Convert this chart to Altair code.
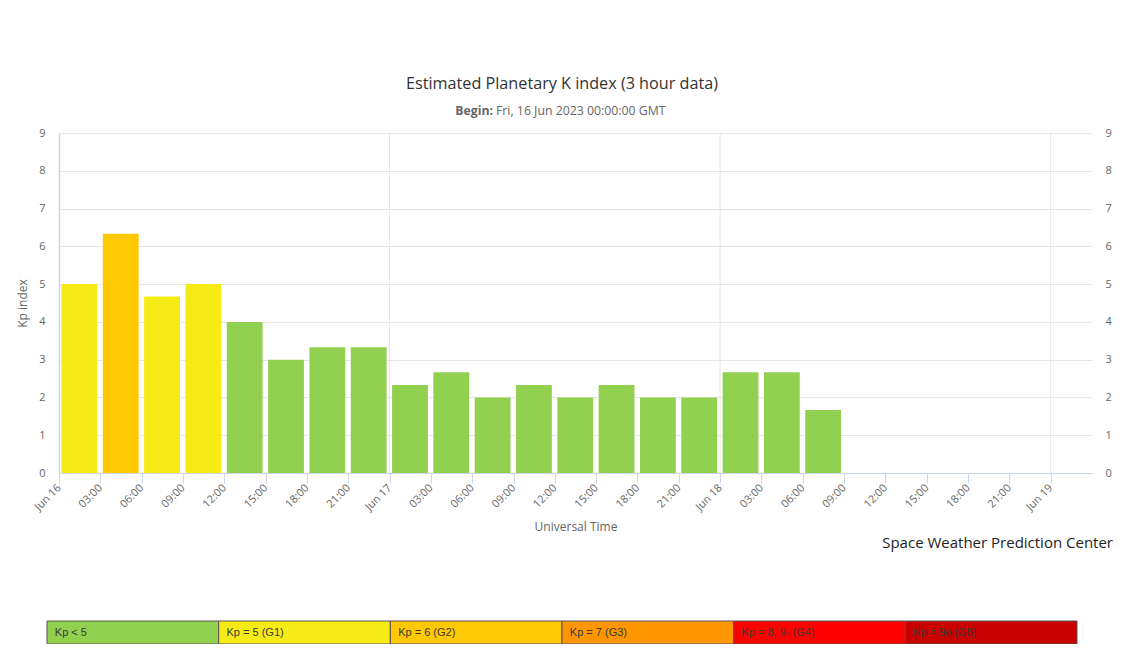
import altair as alt
import pandas as pd

# ---------------- data ----------------
kp_times = [
    "2023-06-16T00:00:00Z", "2023-06-16T03:00:00Z", "2023-06-16T06:00:00Z", "2023-06-16T09:00:00Z",
    "2023-06-16T12:00:00Z", "2023-06-16T15:00:00Z", "2023-06-16T18:00:00Z", "2023-06-16T21:00:00Z",
    "2023-06-17T00:00:00Z", "2023-06-17T03:00:00Z", "2023-06-17T06:00:00Z", "2023-06-17T09:00:00Z",
    "2023-06-17T12:00:00Z", "2023-06-17T15:00:00Z", "2023-06-17T18:00:00Z", "2023-06-17T21:00:00Z",
    "2023-06-18T00:00:00Z", "2023-06-18T03:00:00Z", "2023-06-18T06:00:00Z",
]
kp_values = [5.00, 6.33, 4.67, 5.00, 4.00, 3.00, 3.33, 3.33, 2.33, 2.67,
             2.00, 2.33, 2.00, 2.33, 2.00, 2.00, 2.67, 2.67, 1.67]
day_lines = ["2023-06-17T00:00:00Z", "2023-06-18T00:00:00Z", "2023-06-19T00:00:00Z"]
y_ticks = [0, 1, 2, 3, 4, 5, 6, 7, 8, 9]

scale_labels = ["Kp < 5", "Kp = 5 (G1)", "Kp = 6 (G2)", "Kp = 7 (G3)", "Kp = 8, 9- (G4)", "Kp = 9o (G5)"]
scale_colors = ["#92D050", "#F6EB14", "#FFC800", "#FF9600", "#FF0000", "#C80000"]
kp_thresholds = [4.5, 5.5, 6.5, 7.5, 8.8]

title_text = "Estimated Planetary K index (3 hour data)"
subtitle_label = "Begin:"
subtitle_value = "Fri, 16 Jun 2023 00:00:00 GMT"
credit_text = "Space Weather Prediction Center"
x_title = "Universal Time"
y_title = "Kp index"

# ---------------- tables ----------------
df = pd.DataFrame({"start": kp_times, "kp": kp_values})
df["end"] = (pd.to_datetime(df["start"]) + pd.Timedelta(hours=3)).dt.strftime("%Y-%m-%dT%H:%M:%SZ")
days_df = pd.DataFrame({"day": day_lines})
legend_df = pd.DataFrame({"label": scale_labels})

tick_times = pd.date_range("2023-06-16", "2023-06-19", freq="3h", tz="UTC")
tick_ms = [int(t.value // 10**6) for t in tick_times]

x_domain = [alt.DateTime(year=2023, month=6, date=16, hours=0, utc=True),
            alt.DateTime(year=2023, month=6, date=19, hours=3, utc=True)]
xscale = alt.Scale(type="utc", domain=x_domain)
yscale = alt.Scale(domain=[0, 9], nice=False)

FONT = "Open Sans"
AXIS_BLUE = "#ccd6eb"
GRID = "#e6e6e6"

label_expr = ("utchours(datum.value) == 0 ? utcFormat(datum.value, '%b %-d') "
              ": utcFormat(datum.value, '%H:%M')")

grid_rules = alt.Chart(days_df).mark_rule(color=GRID, strokeWidth=1).encode(
    x=alt.X("day:T", scale=xscale, axis=None)
)

bars = alt.Chart(df).mark_bar(xOffset=2.5, x2Offset=-3).encode(
    x=alt.X("start:T", scale=xscale, axis=alt.Axis(
        values=tick_ms, labelExpr=label_expr, labelAngle=-45, labelAlign="right",
        labelBaseline="middle", labelPadding=3, tickSize=10, tickColor=AXIS_BLUE,
        domainColor=AXIS_BLUE, grid=False, labelOverlap=False, labelFlush=False,
        labelColor="#666666", labelFont=FONT, labelFontSize=11,
        title=x_title, titleColor="#666666", titleFont=FONT, titleFontSize=12,
        titleFontWeight="normal", titlePadding=9)),
    x2="end:T",
    y=alt.Y("kp:Q", scale=yscale, axis=alt.Axis(
        values=y_ticks, grid=True, gridColor=GRID, ticks=False, domainColor=AXIS_BLUE,
        domainWidth=1.5, labelColor="#666666", labelFont=FONT, labelFontSize=11,
        labelPadding=14, title=y_title, titleColor="#666666", titleFont=FONT,
        titleFontSize=12, titleFontWeight="normal", titlePadding=9)),
    y2=alt.datum(0),
    color=alt.Color("kp:Q", scale=alt.Scale(type="threshold", domain=kp_thresholds,
                                            range=scale_colors), legend=None),
)

right_axis = alt.Chart(df).mark_bar(opacity=0).encode(
    x=alt.X("start:T", scale=xscale, axis=None),
    x2="end:T",
    y=alt.Y("kp:Q", scale=yscale, axis=alt.Axis(
        orient="right", values=y_ticks, grid=False, ticks=False, domain=False,
        labelColor="#666666", labelFont=FONT, labelFontSize=11, labelPadding=13,
        title=None)),
    y2=alt.datum(0),
)

legend_scale = alt.Scale(domain=scale_labels, range=[-12, 1018], paddingInner=0, paddingOuter=0)

legend_rects = alt.Chart(legend_df).mark_rect(stroke="#555555", strokeWidth=1).encode(
    x=alt.X("label:N", scale=legend_scale, axis=None),
    y=alt.value(488), y2=alt.value(511),
    color=alt.Color("label:N", scale=alt.Scale(domain=scale_labels, range=scale_colors), legend=None),
)

legend_text = alt.Chart(legend_df).mark_text(
    align="left", baseline="middle", dx=-78, font="Liberation Sans", fontSize=11, color="#3a3a3a"
).encode(
    x=alt.X("label:N", scale=legend_scale, axis=None),
    y=alt.value(499.5),
    text="label:N",
)

title_mark = alt.Chart(pd.DataFrame({"t": [title_text]})).mark_text(
    align="center", baseline="alphabetic", font=FONT, fontSize=16.2, color="#333333"
).encode(x=alt.value(503), y=alt.value(-44), text="t:N")

sub_label = alt.Chart(pd.DataFrame({"t": [subtitle_label]})).mark_text(
    align="right", baseline="alphabetic", font=FONT, fontSize=12.3, fontWeight="bold", color="#666666"
).encode(x=alt.value(434), y=alt.value(-18), text="t:N")

sub_value = alt.Chart(pd.DataFrame({"t": [subtitle_value]})).mark_text(
    align="left", baseline="alphabetic", font=FONT, fontSize=12.3, color="#666666"
).encode(x=alt.value(437), y=alt.value(-18), text="t:N")

credit = alt.Chart(pd.DataFrame({"t": [credit_text]})).mark_text(
    align="right", baseline="alphabetic", font=FONT, fontSize=15, color="#222222"
).encode(x=alt.value(1054), y=alt.value(415), text="t:N")

chart = alt.layer(
    grid_rules, bars, right_axis, legend_rects, legend_text,
    title_mark, sub_label, sub_value, credit
).resolve_scale(
    x="independent", y="independent", color="independent"
).properties(
    width=1033, height=340,
    autosize=alt.AutoSizeParams(type="none"),
    padding={"left": 51, "top": 125, "right": 27, "bottom": 171},
    background="white",
).configure_view(stroke=None)

chart.save("out.html", embed_options={"renderer": "svg", "actions": False})
